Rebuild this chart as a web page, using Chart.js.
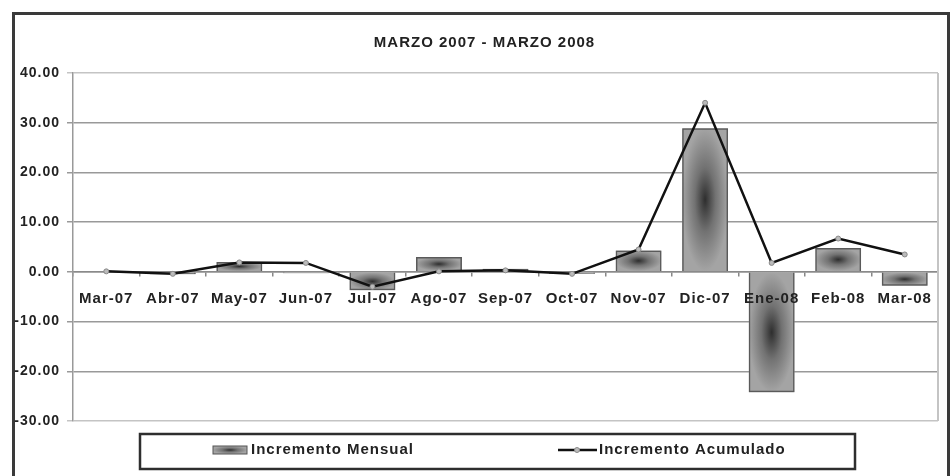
<!DOCTYPE html>
<html>
<head>
<meta charset="utf-8">
<script src="https://cdn.jsdelivr.net/npm/chart.js@4.4.1/dist/chart.umd.min.js"></script>
<style>
  html, body { margin: 0; padding: 0; background: #fff; overflow: hidden; }
  #frame { position: absolute; left: 12px; top: 12px; width: 932px; height: 600px; border: 3px solid #3a3a3a; box-sizing: content-box; }
  #wrap { position: absolute; left: 0; top: 0; width: 950px; height: 476px; }
</style>
</head>
<body>
<div id="frame"></div>
<div id="wrap"><canvas id="c" width="950" height="476"></canvas></div>
<script>
const title = 'MARZO 2007 - MARZO 2008';
const categories = ['Mar-07','Abr-07','May-07','Jun-07','Jul-07','Ago-07','Sep-07','Oct-07','Nov-07','Dic-07','Ene-08','Feb-08','Mar-08'];
const incrementoMensual = [0.0, -0.5, 2.0, -0.3, -3.7, 3.0, 0.6, -0.4, 4.3, 28.9, -24.2, 4.8, -2.8];
const incrementoAcumulado = [0.1, -0.4, 1.9, 1.8, -3.0, 0.1, 0.3, -0.4, 4.5, 34.0, 1.8, 6.7, 3.5];
const yTicks = { min: -30, max: 40, step: 10 };

const FONT = 'Liberation Sans, Arial, sans-serif';

function barGradient(ctx, x, top, w, h) {
  ctx.save();
  ctx.beginPath();
  ctx.rect(x - w / 2, top, w, h);
  ctx.clip();
  ctx.translate(x, top + h / 2);
  const sy = Math.max(h, 1) / w;
  ctx.scale(1, sy);
  const g = ctx.createRadialGradient(0, 0, 0, 0, 0, w / 2);
  g.addColorStop(0, '#2e2e2e');
  g.addColorStop(0.45, '#727272');
  g.addColorStop(1, '#a4a4a4');
  ctx.fillStyle = g;
  ctx.fillRect(-w / 2, -h / 2 / sy - 1, w, h / sy + 2);
  ctx.restore();
}

const spacingPlugin = {
  id: 'spacing',
  beforeUpdate(chart) { chart.ctx.letterSpacing = '1px'; },
  afterLayout(chart) {
    if (chart.titleBlock) { chart.titleBlock.left = 31; }
  },
  beforeDraw(chart) { chart.ctx.letterSpacing = '1px'; }
};

const decoPlugin = {
  id: 'deco',
  beforeDatasetDraw(chart, args) {
    if (args.index !== 0) return;
    const ctx = chart.ctx;
    const meta = chart.getDatasetMeta(0);
    meta.data.forEach(el => {
      const top = Math.min(el.y, el.base);
      const h = Math.abs(el.base - el.y);
      if (h < 0.5) return;
      barGradient(ctx, el.x, top, el.width, h);
    });
  },
  beforeDatasetsDraw(chart) {
    const ctx = chart.ctx, a = chart.chartArea;
    ctx.save();
    ctx.strokeStyle = '#c4c4c4';
    ctx.lineWidth = 2;
    ctx.beginPath();
    ctx.moveTo(a.right, a.top);
    ctx.lineTo(a.right, a.bottom);
    ctx.stroke();
    ctx.restore();
  },
  afterDraw(chart) {
    const ctx = chart.ctx;
    ctx.save();
    ctx.letterSpacing = '1px';
    ctx.strokeStyle = '#2e2e2e';
    ctx.lineWidth = 2.5;
    ctx.strokeRect(140, 434, 715, 35);
    const cy = 450;
    ctx.font = 'bold 15px ' + FONT;
    ctx.fillStyle = '#222';
    ctx.textBaseline = 'middle';
    ctx.textAlign = 'left';
    barGradient(ctx, 230, cy - 4, 34, 8);
    ctx.strokeStyle = '#555';
    ctx.lineWidth = 1;
    ctx.strokeRect(213, cy - 4, 34, 8);
    ctx.fillText(chart.data.datasets[0].label, 251, cy);
    ctx.strokeStyle = '#111';
    ctx.lineWidth = 2.5;
    ctx.beginPath();
    ctx.moveTo(558, cy);
    ctx.lineTo(597, cy);
    ctx.stroke();
    ctx.fillStyle = '#bbb';
    ctx.strokeStyle = '#888';
    ctx.lineWidth = 1;
    ctx.beginPath();
    ctx.arc(577, cy, 2.5, 0, Math.PI * 2);
    ctx.fill();
    ctx.stroke();
    ctx.fillStyle = '#222';
    ctx.fillText(chart.data.datasets[1].label, 599, cy);
    ctx.restore();
  }
};

new Chart(document.getElementById('c'), {
  type: 'bar',
  data: {
    labels: categories,
    datasets: [
      {
        type: 'bar',
        label: 'Incremento Mensual',
        data: incrementoMensual,
        backgroundColor: 'rgba(0,0,0,0)',
        borderColor: '#5a5a5a',
        borderWidth: 1.5,
        categoryPercentage: 1.0,
        barPercentage: 0.69,
        order: 2
      },
      {
        type: 'line',
        label: 'Incremento Acumulado',
        data: incrementoAcumulado,
        borderColor: '#111',
        borderWidth: 2.5,
        tension: 0,
        pointRadius: 2.5,
        pointBackgroundColor: '#bbb',
        pointBorderColor: '#888',
        pointBorderWidth: 1,
        fill: false,
        order: 1
      }
    ]
  },
  options: {
    responsive: false,
    animation: false,
    events: [],
    layout: { padding: { left: 0, right: 12, top: 0, bottom: 55 } },
    plugins: {
      legend: { display: false },
      tooltip: { enabled: false },
      title: {
        display: true,
        text: title,
        color: '#222',
        font: { family: FONT, size: 15, weight: 'bold' },
        padding: { top: 34, bottom: 21 }
      }
    },
    scales: {
      x: {
        position: { y: 0 },
        offset: true,
        grid: { display: true, drawOnChartArea: false, drawTicks: true, tickLength: 4, offset: true, color: '#888', lineWidth: 1.5 },
        border: { display: true, color: '#8a8a8a', width: 1.5 },
        ticks: { z: 1, color: '#222', font: { family: FONT, size: 15, weight: 'bold' }, padding: 14, maxRotation: 0, autoSkip: false }
      },
      y: {
        min: yTicks.min,
        max: yTicks.max,
        afterFit(scale) { scale.width = 73; },
        grid: {
          color: (c) => (c.tick && (c.tick.value === yTicks.max || c.tick.value === yTicks.min)) ? '#c4c4c4' : '#999',
          lineWidth: 1.5,
          tickLength: 6,
          drawTicks: true
        },
        border: { display: true, color: '#999', width: 1.5 },
        ticks: {
          stepSize: yTicks.step,
          color: '#222',
          padding: 7,
          font: { family: FONT, size: 14, weight: 'bold' },
          callback: (v) => Number(v).toFixed(2)
        }
      }
    }
  },
  plugins: [spacingPlugin, decoPlugin]
});
</script>
</body>
</html>
